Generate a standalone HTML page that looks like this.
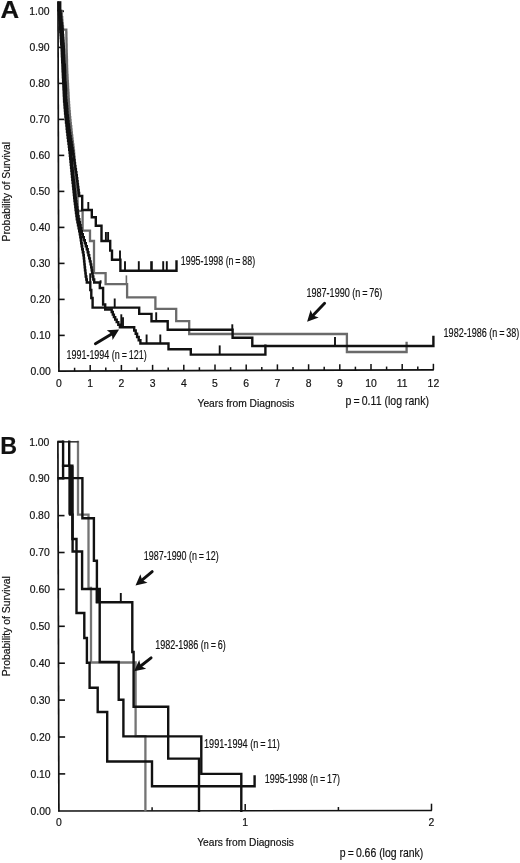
<!DOCTYPE html>
<html><head><meta charset="utf-8"><title>Survival curves</title>
<style>
html,body{margin:0;padding:0;background:#fff;}
body{width:520px;height:863px;overflow:hidden;}
svg{display:block;}
text{font-family:'Liberation Sans', Arial, Helvetica, sans-serif;fill:#111;stroke:#111;stroke-width:0.18px;}
</style></head><body>
<svg width="520" height="863" viewBox="0 0 520 863">
<rect width="520" height="863" fill="#fff"/>
<line x1="58.0" y1="1.5" x2="58.9" y2="371.4" stroke="#111" stroke-width="1.7" stroke-linecap="butt"/>
<line x1="58.1" y1="371.2" x2="433.8" y2="369.8" stroke="#111" stroke-width="1.7" stroke-linecap="butt"/>
<line x1="58.81" y1="335.4" x2="64.71" y2="335.4" stroke="#111" stroke-width="1.6" stroke-linecap="butt"/>
<line x1="58.72" y1="299.4" x2="64.62" y2="299.4" stroke="#111" stroke-width="1.6" stroke-linecap="butt"/>
<line x1="58.64" y1="263.4" x2="64.54" y2="263.4" stroke="#111" stroke-width="1.6" stroke-linecap="butt"/>
<line x1="58.55" y1="227.4" x2="64.45" y2="227.4" stroke="#111" stroke-width="1.6" stroke-linecap="butt"/>
<line x1="58.46" y1="191.4" x2="64.36" y2="191.4" stroke="#111" stroke-width="1.6" stroke-linecap="butt"/>
<line x1="58.37" y1="155.4" x2="64.27" y2="155.4" stroke="#111" stroke-width="1.6" stroke-linecap="butt"/>
<line x1="58.29" y1="119.4" x2="64.19" y2="119.4" stroke="#111" stroke-width="1.6" stroke-linecap="butt"/>
<line x1="58.2" y1="83.4" x2="64.1" y2="83.4" stroke="#111" stroke-width="1.6" stroke-linecap="butt"/>
<line x1="58.11" y1="47.4" x2="64.01" y2="47.4" stroke="#111" stroke-width="1.6" stroke-linecap="butt"/>
<line x1="58.02" y1="11.4" x2="63.92" y2="11.4" stroke="#111" stroke-width="1.6" stroke-linecap="butt"/>
<line x1="74.6" y1="371.14" x2="74.6" y2="367.74" stroke="#111" stroke-width="1.5" stroke-linecap="butt"/>
<line x1="90.2" y1="371.08" x2="90.2" y2="365.08" stroke="#111" stroke-width="1.5" stroke-linecap="butt"/>
<line x1="105.8" y1="371.02" x2="105.8" y2="367.62" stroke="#111" stroke-width="1.5" stroke-linecap="butt"/>
<line x1="121.4" y1="370.96" x2="121.4" y2="364.96" stroke="#111" stroke-width="1.5" stroke-linecap="butt"/>
<line x1="137.0" y1="370.91" x2="137.0" y2="367.51" stroke="#111" stroke-width="1.5" stroke-linecap="butt"/>
<line x1="152.6" y1="370.85" x2="152.6" y2="364.85" stroke="#111" stroke-width="1.5" stroke-linecap="butt"/>
<line x1="168.2" y1="370.79" x2="168.2" y2="367.39" stroke="#111" stroke-width="1.5" stroke-linecap="butt"/>
<line x1="183.8" y1="370.73" x2="183.8" y2="364.73" stroke="#111" stroke-width="1.5" stroke-linecap="butt"/>
<line x1="199.4" y1="370.67" x2="199.4" y2="367.27" stroke="#111" stroke-width="1.5" stroke-linecap="butt"/>
<line x1="215.0" y1="370.61" x2="215.0" y2="364.61" stroke="#111" stroke-width="1.5" stroke-linecap="butt"/>
<line x1="230.6" y1="370.56" x2="230.6" y2="367.16" stroke="#111" stroke-width="1.5" stroke-linecap="butt"/>
<line x1="246.2" y1="370.5" x2="246.2" y2="364.5" stroke="#111" stroke-width="1.5" stroke-linecap="butt"/>
<line x1="261.8" y1="370.44" x2="261.8" y2="367.04" stroke="#111" stroke-width="1.5" stroke-linecap="butt"/>
<line x1="277.4" y1="370.38" x2="277.4" y2="364.38" stroke="#111" stroke-width="1.5" stroke-linecap="butt"/>
<line x1="293.0" y1="370.32" x2="293.0" y2="366.92" stroke="#111" stroke-width="1.5" stroke-linecap="butt"/>
<line x1="308.6" y1="370.26" x2="308.6" y2="364.26" stroke="#111" stroke-width="1.5" stroke-linecap="butt"/>
<line x1="324.2" y1="370.21" x2="324.2" y2="366.81" stroke="#111" stroke-width="1.5" stroke-linecap="butt"/>
<line x1="339.8" y1="370.15" x2="339.8" y2="364.15" stroke="#111" stroke-width="1.5" stroke-linecap="butt"/>
<line x1="355.4" y1="370.09" x2="355.4" y2="366.69" stroke="#111" stroke-width="1.5" stroke-linecap="butt"/>
<line x1="371.0" y1="370.03" x2="371.0" y2="364.03" stroke="#111" stroke-width="1.5" stroke-linecap="butt"/>
<line x1="386.6" y1="369.97" x2="386.6" y2="366.57" stroke="#111" stroke-width="1.5" stroke-linecap="butt"/>
<line x1="402.2" y1="369.91" x2="402.2" y2="363.91" stroke="#111" stroke-width="1.5" stroke-linecap="butt"/>
<line x1="417.8" y1="369.86" x2="417.8" y2="366.46" stroke="#111" stroke-width="1.5" stroke-linecap="butt"/>
<line x1="433.4" y1="369.8" x2="433.4" y2="363.8" stroke="#111" stroke-width="1.5" stroke-linecap="butt"/>
<rect x="57.4" y="1.2" width="4" height="9.8" fill="#111"/>
<line x1="57.4" y1="10.8" x2="63.5" y2="10.8" stroke="#111" stroke-width="1.6" stroke-linecap="butt"/>
<path d="M61.7,11.0V14.1H61.9V17.2H62.2V20.3H62.4V23.4H62.7V26.5H63.0V29.6H66.3V32.6H66.4V35.6H66.4V38.7H66.5V41.7H66.5V44.7H66.6V47.7H66.6V50.7H66.7V53.8H66.8V56.8H66.9V59.8H67.0V62.8H67.0V65.8H67.1V68.9H67.2V71.9H67.3V74.9H67.5V77.9H67.6V80.9H67.8V84.0H68.0V87.0H68.1V90.0H68.3V93.0H68.5V96.0H68.6V99.1H68.8V102.1H69.0V105.1H69.2V108.1H69.4V111.1H69.7V114.2H69.9V117.2H70.2V120.2H70.5V123.2H70.8V126.2H71.2V129.3H71.5V132.3H71.8V135.3H72.2V138.3H72.5V141.3H72.9V144.4H73.3V147.4H73.6V150.4H74.0V153.4H74.2V156.4H74.4V159.5H74.6V162.5H74.8V165.5H75.0V168.5H75.2V171.5H75.4V174.6H75.6V177.6H75.8V180.6H76.1V183.6H76.3V186.6H76.5V189.7H76.8V192.7H77.0V195.7H77.3V198.7H77.5V201.7H77.6V204.8H77.7V207.8H77.8V210.8H82.6V230.7H90.0V241H94.0V273.2H105.6V284.1H127.1V297.4H155.4V308.8H176.2V321.2H189.2V334H346.9V352H406.6V343" fill="none" stroke="#6a6a6a" stroke-width="2.3" stroke-linejoin="miter" stroke-linecap="square" />
<line x1="126.4" y1="275.4" x2="126.4" y2="284.1" stroke="#6a6a6a" stroke-width="1.6" stroke-linecap="butt"/>
<path d="M59.0,11.0V14.0H59.2V17.0H59.4V20.1H59.7V23.1H59.9V26.1H60.1V29.1H60.3V32.1H60.6V35.1H60.8V38.1H61.0V41.2H61.2V44.2H61.5V47.2H61.7V50.2H61.8V53.2H61.9V56.2H62.1V59.3H62.2V62.3H62.4V65.3H62.5V68.3H62.6V71.3H62.8V74.3H62.9V77.4H63.1V80.4H63.2V83.4H63.4V86.4H63.5V89.4H63.7V92.5H63.8V95.5H64.0V98.5H64.1V101.5H64.4V104.5H64.6V107.5H64.9V110.5H65.1V113.6H65.4V116.6H65.7V119.6H66.0V122.6H66.4V125.6H66.7V128.7H67.0V131.7H67.4V134.7H67.7V137.7H68.1V140.7H68.5V143.7H68.9V146.8H69.2V149.8H69.6V152.8H69.9V155.8H70.2V158.8H70.5V161.8H70.8V164.8H71.1V167.9H71.4V170.9H71.7V173.9H72.0V176.9H72.3V179.9H72.6V182.9H73.0V186.0H73.3V189.0H73.6V192.0H73.9V195.0H74.2V198.0H74.5V201.1H74.9V204.1H75.3V207.1H75.6V210.1H76.0V213.1H76.4V216.1H76.8V219.2H77.4V222.2H78.0V225.2H78.6V228.2H79.2V231.2H79.8V234.2H80.3V237.2H80.8V240.3H81.2V243.3H81.7V246.3H82.2V249.3H82.8V252.3H83.4V255.3H83.8V258.4H84.1V261.4H84.4V264.4H84.7V267.4H85.0V270.4H85.4V273.4H85.7V276.5H86.3V279.5H86.8V282.5H90.3V290H91.3V298H92.6V307.6H139.2V313.9H151.5V321.2H167.7V329.8H232.6V337.7H252.3V346H433.4V337" fill="none" stroke="#111" stroke-width="2.4" stroke-linejoin="miter" stroke-linecap="square" />
<line x1="114.7" y1="298.5" x2="114.7" y2="307.7" stroke="#111" stroke-width="1.9" stroke-linecap="butt"/>
<line x1="156.2" y1="312.3" x2="156.2" y2="321.2" stroke="#111" stroke-width="1.9" stroke-linecap="butt"/>
<line x1="232.3" y1="324.3" x2="232.3" y2="329.8" stroke="#111" stroke-width="1.9" stroke-linecap="butt"/>
<line x1="335.0" y1="337.0" x2="335.0" y2="346" stroke="#111" stroke-width="1.9" stroke-linecap="butt"/>
<line x1="90.2" y1="273.3" x2="90.2" y2="282.5" stroke="#111" stroke-width="1.9" stroke-linecap="butt"/>
<path d="M60.0,11.0V14.0H60.3V17.0H60.5V20.1H60.8V23.1H61.1V26.1H61.3V29.1H61.6V32.1H61.9V35.1H62.1V38.1H62.3V41.2H62.5V44.2H62.8V47.2H63.0V50.2H63.1V53.2H63.2V56.2H63.4V59.3H63.5V62.3H63.7V65.3H63.8V68.3H63.9V71.3H64.1V74.3H64.2V77.4H64.4V80.4H64.5V83.4H64.7V86.4H64.8V89.4H65.0V92.5H65.1V95.5H65.3V98.5H65.4V101.5H65.7V104.5H65.9V107.5H66.2V110.5H66.4V113.6H66.7V116.6H67.0V119.6H67.3V122.6H67.7V125.6H68.0V128.7H68.3V131.7H68.7V134.7H69.0V137.7H69.4V140.7H69.8V143.7H70.2V146.8H70.5V149.8H70.9V152.8H71.2V155.8H71.5V158.8H71.8V161.8H72.1V164.8H72.4V167.9H72.7V170.9H73.0V173.9H73.3V176.9H73.6V179.9H73.9V182.9H74.2V186.0H74.5V189.0H74.8V192.0H75.1V195.0H75.4V198.0H75.8V201.1H76.3V204.1H76.7V207.1H77.2V210.1H77.7V213.1H78.1V216.1H78.6V219.2H79.3V222.2H79.9V225.2H80.6V228.2H81.2V231.2H81.8V234.2H82.8V237.2H83.8V240.3H84.8V243.3H85.8V246.3H86.8V249.3H87.7V252.3H88.4V255.3H89.2V258.4H89.9V261.4H90.6V264.4H91.2V267.4H91.7V270.4H92.1V273.4H92.6V276.5H93.3V279.5H94.2V282.5H99.8V288H103.1V304.5H105.2V309.5H111.7V312.0H112.8V314.6H113.9V317.1H115.2V319.6H116.7V322.1H118.3V324.7H119.9V327.2H134.2V330.5H135.7V333.7H137.1V337.0H138.7V340.2H140.4V343.5H168.5V349.3H190.8V354.6H265.4V345.8" fill="none" stroke="#111" stroke-width="2.4" stroke-linejoin="miter" stroke-linecap="square" />
<line x1="100.6" y1="280.3" x2="100.6" y2="283.5" stroke="#111" stroke-width="1.9" stroke-linecap="butt"/>
<line x1="121.3" y1="314.3" x2="121.3" y2="326.5" stroke="#111" stroke-width="1.9" stroke-linecap="butt"/>
<line x1="123.0" y1="317.3" x2="123.0" y2="327" stroke="#111" stroke-width="1.9" stroke-linecap="butt"/>
<line x1="146.6" y1="334.5" x2="146.6" y2="343.5" stroke="#111" stroke-width="1.9" stroke-linecap="butt"/><line x1="160.3" y1="334.5" x2="160.3" y2="343.5" stroke="#111" stroke-width="1.9" stroke-linecap="butt"/>
<line x1="219.7" y1="345.4" x2="219.7" y2="354.6" stroke="#111" stroke-width="1.9" stroke-linecap="butt"/>
<path d="M60.5,11.0V14.0H60.8V17.0H61.2V20.0H61.5V22.9H61.9V25.9H62.2V28.9H62.6V31.9H62.8V34.9H63.1V37.9H63.3V40.8H63.5V43.8H63.7V46.8H63.9V49.8H64.1V52.8H64.2V55.8H64.4V58.7H64.5V61.7H64.6V64.7H64.8V67.7H64.9V70.7H65.1V73.7H65.2V76.6H65.4V79.6H65.5V82.6H65.7V85.6H65.8V88.6H66.0V91.6H66.1V94.5H66.2V97.5H66.4V100.5H66.6V103.5H66.8V106.5H67.1V109.5H67.4V112.5H67.6V115.4H67.9V118.4H68.2V121.4H68.6V124.4H69.0V127.4H69.3V130.4H69.7V133.3H70.1V136.3H70.6V139.3H71.1V142.3H71.6V145.3H72.1V148.3H72.6V151.2H73.1V154.2H73.6V157.2H74.0V160.2H74.5V163.2H75.0V166.2H75.4V169.1H75.9V172.1H76.4V175.1H76.8V178.1H77.2V181.1H77.6V184.1H77.9V187.0H78.3V190.0H78.7V193.0H79.1V196.0H82.2V210H91.8V217.3H95.8V225.8H101.5V241H110.2V250.6H112V259.7H120.4V270.8H176.5V261.5" fill="none" stroke="#111" stroke-width="2.4" stroke-linejoin="miter" stroke-linecap="square" />
<line x1="88.3" y1="202" x2="88.3" y2="210" stroke="#111" stroke-width="1.9" stroke-linecap="butt"/>
<line x1="105.9" y1="232.0" x2="105.9" y2="241" stroke="#111" stroke-width="1.9" stroke-linecap="butt"/><line x1="108.1" y1="232.0" x2="108.1" y2="241" stroke="#111" stroke-width="1.9" stroke-linecap="butt"/>
<line x1="120.0" y1="250.5" x2="120.0" y2="259.7" stroke="#111" stroke-width="1.9" stroke-linecap="butt"/>
<line x1="125.0" y1="261.2" x2="125.0" y2="270.8" stroke="#111" stroke-width="1.9" stroke-linecap="butt"/><line x1="138.8" y1="261.2" x2="138.8" y2="270.8" stroke="#111" stroke-width="1.9" stroke-linecap="butt"/><line x1="163.2" y1="261.2" x2="163.2" y2="270.8" stroke="#111" stroke-width="1.9" stroke-linecap="butt"/><line x1="166.8" y1="261.2" x2="166.8" y2="270.8" stroke="#111" stroke-width="1.9" stroke-linecap="butt"/>
<line x1="151.5" y1="261.2" x2="151.5" y2="270.8" stroke="#111" stroke-width="2.6" stroke-linecap="butt"/>
<line x1="324.6" y1="303.2" x2="312.4" y2="316.1" stroke="#111" stroke-width="2.9" stroke-linecap="round"/><polygon points="307.1,321.7 310.6,309.9 313.0,315.5 318.7,317.6" fill="#111"/>
<line x1="95.4" y1="343.8" x2="112.5" y2="333.4" stroke="#111" stroke-width="2.9" stroke-linecap="round"/><polygon points="119.1,329.4 112.6,339.9 111.8,333.9 106.8,330.3" fill="#111"/>
<line x1="57.9" y1="441.2" x2="58.9" y2="811.6" stroke="#111" stroke-width="1.7" stroke-linecap="butt"/>
<line x1="58.1" y1="811.0" x2="431.9" y2="810.5" stroke="#111" stroke-width="1.7" stroke-linecap="butt"/>
<line x1="58.8" y1="773.9" x2="65.2" y2="773.9" stroke="#111" stroke-width="1.6" stroke-linecap="butt"/>
<line x1="58.7" y1="737.0" x2="65.1" y2="737.0" stroke="#111" stroke-width="1.6" stroke-linecap="butt"/>
<line x1="58.6" y1="700.1" x2="65.0" y2="700.1" stroke="#111" stroke-width="1.6" stroke-linecap="butt"/>
<line x1="58.5" y1="663.2" x2="64.9" y2="663.2" stroke="#111" stroke-width="1.6" stroke-linecap="butt"/>
<line x1="58.4" y1="626.3" x2="64.8" y2="626.3" stroke="#111" stroke-width="1.6" stroke-linecap="butt"/>
<line x1="58.3" y1="589.4" x2="64.7" y2="589.4" stroke="#111" stroke-width="1.6" stroke-linecap="butt"/>
<line x1="58.2" y1="552.5" x2="64.6" y2="552.5" stroke="#111" stroke-width="1.6" stroke-linecap="butt"/>
<line x1="58.1" y1="515.6" x2="64.5" y2="515.6" stroke="#111" stroke-width="1.6" stroke-linecap="butt"/>
<line x1="58.0" y1="478.7" x2="64.4" y2="478.7" stroke="#111" stroke-width="1.6" stroke-linecap="butt"/>
<line x1="152.1" y1="810.87" x2="152.1" y2="807.27" stroke="#111" stroke-width="1.5" stroke-linecap="butt"/>
<line x1="245.2" y1="810.75" x2="245.2" y2="803.95" stroke="#111" stroke-width="1.5" stroke-linecap="butt"/>
<line x1="338.4" y1="810.63" x2="338.4" y2="807.03" stroke="#111" stroke-width="1.5" stroke-linecap="butt"/>
<line x1="431.5" y1="810.5" x2="431.5" y2="803.7" stroke="#111" stroke-width="1.5" stroke-linecap="butt"/>
<path d="M78,441.8V514.6H88.5V588H91V662.5H135.6V736.2H145.4V810.7" fill="none" stroke="#747474" stroke-width="2.3" stroke-linejoin="miter" stroke-linecap="square" />
<line x1="58.3" y1="441.8" x2="78.5" y2="441.8" stroke="#3a3a3a" stroke-width="1.6" stroke-linecap="butt"/>
<path d="M58.6,478.1H82.4V518.2H93.9V560.8H96.9V602.3H132.3V652H133.6V706.8H168.2V758.6H199.0V810.7" fill="none" stroke="#111" stroke-width="2.4" stroke-linejoin="miter" stroke-linecap="square" />
<line x1="120.8" y1="593" x2="120.8" y2="602.3" stroke="#111" stroke-width="1.9" stroke-linecap="butt"/>
<path d="M69.2,441.8V465.8M70.1,466V514.6H72.6V551.5H82.1V589H99.7V662H118.7V699.8H123.4V736.4H201.3V773.9H241.3V810.7" fill="none" stroke="#111" stroke-width="2.4" stroke-linejoin="miter" stroke-linecap="square" />
<path d="M63.1,441.8V478M63,465.8H72.4V539H76.5V613H84.3V638H86.9V662.8H89.6V687.7H97.7V712H107.2V761.5H152V786.2H254.6V776.5" fill="none" stroke="#111" stroke-width="2.4" stroke-linejoin="miter" stroke-linecap="square" />
<line x1="57.4" y1="441.7" x2="63.5" y2="441.7" stroke="#111" stroke-width="2.2" stroke-linecap="butt"/>
<rect x="68.4" y="466" width="5.0" height="48.6" fill="#111"/>
<rect x="95.8" y="588" width="4.8" height="15" fill="#111"/>
<line x1="152.2" y1="571.6" x2="141.4" y2="580.6" stroke="#111" stroke-width="2.9" stroke-linecap="round"/><polygon points="135.5,585.5 140.4,574.2 142.1,580.0 147.5,582.8" fill="#111"/>
<line x1="151.1" y1="657.8" x2="140.1" y2="666.5" stroke="#111" stroke-width="2.9" stroke-linecap="round"/><polygon points="134.1,671.3 139.2,660.1 140.8,666.0 146.2,668.8" fill="#111"/>
<text x="0.6" y="18.4" font-size="24.4" text-anchor="start" font-weight="bold" textLength="18.6" lengthAdjust="spacingAndGlyphs" >A</text>
<text x="0.2" y="453.7" font-size="24.5" text-anchor="start" font-weight="bold" textLength="16.8" lengthAdjust="spacingAndGlyphs" >B</text>
<text x="50.71" y="375.1" font-size="10.4" text-anchor="end" font-weight="normal" >0.00</text>
<text x="50.81" y="814.5" font-size="10.4" text-anchor="end" font-weight="normal" >0.00</text>
<text x="50.59" y="339.1" font-size="10.4" text-anchor="end" font-weight="normal" >0.10</text>
<text x="50.67" y="777.6" font-size="10.4" text-anchor="end" font-weight="normal" >0.10</text>
<text x="50.47" y="303.1" font-size="10.4" text-anchor="end" font-weight="normal" >0.20</text>
<text x="50.53" y="740.7" font-size="10.4" text-anchor="end" font-weight="normal" >0.20</text>
<text x="50.35" y="267.1" font-size="10.4" text-anchor="end" font-weight="normal" >0.30</text>
<text x="50.39" y="703.8" font-size="10.4" text-anchor="end" font-weight="normal" >0.30</text>
<text x="50.23" y="231.1" font-size="10.4" text-anchor="end" font-weight="normal" >0.40</text>
<text x="50.25" y="666.9" font-size="10.4" text-anchor="end" font-weight="normal" >0.40</text>
<text x="50.11" y="195.1" font-size="10.4" text-anchor="end" font-weight="normal" >0.50</text>
<text x="50.12" y="630.0" font-size="10.4" text-anchor="end" font-weight="normal" >0.50</text>
<text x="49.99" y="159.1" font-size="10.4" text-anchor="end" font-weight="normal" >0.60</text>
<text x="49.98" y="593.1" font-size="10.4" text-anchor="end" font-weight="normal" >0.60</text>
<text x="49.87" y="123.1" font-size="10.4" text-anchor="end" font-weight="normal" >0.70</text>
<text x="49.84" y="556.2" font-size="10.4" text-anchor="end" font-weight="normal" >0.70</text>
<text x="49.75" y="87.1" font-size="10.4" text-anchor="end" font-weight="normal" >0.80</text>
<text x="49.7" y="519.3" font-size="10.4" text-anchor="end" font-weight="normal" >0.80</text>
<text x="49.63" y="51.1" font-size="10.4" text-anchor="end" font-weight="normal" >0.90</text>
<text x="49.56" y="482.4" font-size="10.4" text-anchor="end" font-weight="normal" >0.90</text>
<text x="49.51" y="15.1" font-size="10.4" text-anchor="end" font-weight="normal" >1.00</text>
<text x="49.42" y="445.5" font-size="10.4" text-anchor="end" font-weight="normal" >1.00</text>
<text x="59.0" y="387.2" font-size="10.4" text-anchor="middle" font-weight="normal" >0</text>
<text x="90.2" y="387.2" font-size="10.4" text-anchor="middle" font-weight="normal" >1</text>
<text x="121.4" y="387.2" font-size="10.4" text-anchor="middle" font-weight="normal" >2</text>
<text x="152.6" y="387.2" font-size="10.4" text-anchor="middle" font-weight="normal" >3</text>
<text x="183.8" y="387.2" font-size="10.4" text-anchor="middle" font-weight="normal" >4</text>
<text x="215.0" y="387.2" font-size="10.4" text-anchor="middle" font-weight="normal" >5</text>
<text x="246.2" y="387.2" font-size="10.4" text-anchor="middle" font-weight="normal" >6</text>
<text x="277.4" y="387.2" font-size="10.4" text-anchor="middle" font-weight="normal" >7</text>
<text x="308.6" y="387.2" font-size="10.4" text-anchor="middle" font-weight="normal" >8</text>
<text x="339.8" y="387.2" font-size="10.4" text-anchor="middle" font-weight="normal" >9</text>
<text x="371.0" y="387.2" font-size="10.4" text-anchor="middle" font-weight="normal" >10</text>
<text x="402.2" y="387.2" font-size="10.4" text-anchor="middle" font-weight="normal" >11</text>
<text x="433.4" y="387.2" font-size="10.4" text-anchor="middle" font-weight="normal" >12</text>
<text x="59.0" y="826.2" font-size="10.4" text-anchor="middle" font-weight="normal" >0</text>
<text x="245.2" y="826.2" font-size="10.4" text-anchor="middle" font-weight="normal" >1</text>
<text x="431.5" y="826.2" font-size="10.4" text-anchor="middle" font-weight="normal" >2</text>
<text x="197.5" y="406.8" font-size="10.4" text-anchor="start" font-weight="normal" textLength="97" lengthAdjust="spacingAndGlyphs" >Years from Diagnosis</text>
<text x="197.2" y="846.0" font-size="10.4" text-anchor="start" font-weight="normal" textLength="96.7" lengthAdjust="spacingAndGlyphs" >Years from Diagnosis</text>
<text transform="translate(9.9,241.5) rotate(-90)" font-size="10.4" textLength="99.6" lengthAdjust="spacingAndGlyphs">Probability of Survival</text>
<text transform="translate(9.9,676.2) rotate(-90)" font-size="10.4" textLength="100" lengthAdjust="spacingAndGlyphs">Probability of Survival</text>
<text x="345.5" y="405.2" font-size="13.3" text-anchor="start" font-weight="normal" textLength="83.5" lengthAdjust="spacingAndGlyphs" >p&#8201;=&#8201;0.11 (log rank)</text>
<text x="339.8" y="857.0" font-size="13.3" text-anchor="start" font-weight="normal" textLength="83.5" lengthAdjust="spacingAndGlyphs" >p&#8201;=&#8201;0.66 (log rank)</text>
<text x="180.8" y="264.8" font-size="12.2" text-anchor="start" font-weight="normal" textLength="74.3" lengthAdjust="spacingAndGlyphs" >1995-1998 (n&#8201;=&#8201;88)</text>
<text x="306.4" y="297.4" font-size="12.2" text-anchor="start" font-weight="normal" textLength="76" lengthAdjust="spacingAndGlyphs" >1987-1990 (n&#8201;=&#8201;76)</text>
<text x="443.6" y="337.2" font-size="12.2" text-anchor="start" font-weight="normal" textLength="75.7" lengthAdjust="spacingAndGlyphs" >1982-1986 (n&#8201;=&#8201;38)</text>
<text x="66.4" y="359.4" font-size="12.2" text-anchor="start" font-weight="normal" textLength="80.3" lengthAdjust="spacingAndGlyphs" >1991-1994 (n&#8201;=&#8201;121)</text>
<text x="143.8" y="560.2" font-size="12.2" text-anchor="start" font-weight="normal" textLength="74.9" lengthAdjust="spacingAndGlyphs" >1987-1990 (n&#8201;=&#8201;12)</text>
<text x="155.2" y="649.1" font-size="12.2" text-anchor="start" font-weight="normal" textLength="70.6" lengthAdjust="spacingAndGlyphs" >1982-1986 (n&#8201;=&#8201;6)</text>
<text x="204.0" y="747.8" font-size="12.2" text-anchor="start" font-weight="normal" textLength="75.8" lengthAdjust="spacingAndGlyphs" >1991-1994 (n&#8201;=&#8201;11)</text>
<text x="264.7" y="783.1" font-size="12.2" text-anchor="start" font-weight="normal" textLength="75.2" lengthAdjust="spacingAndGlyphs" >1995-1998 (n&#8201;=&#8201;17)</text>
</svg>
</body></html>
